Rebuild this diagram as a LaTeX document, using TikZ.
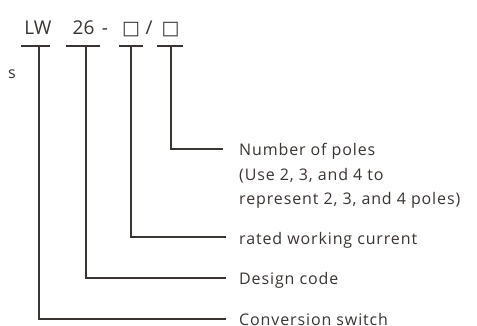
\documentclass[tikz,border=0pt]{standalone}
\usepackage{fontspec}
\setmainfont{Open Sans}
\newfontfamily\symfont{DejaVu Sans}
\newfontfamily\labelfont[LetterSpace=5.5]{Open Sans}
\definecolor{ink}{HTML}{3A3432}
\begin{document}
\begin{tikzpicture}[x=1pt,y=-1pt,
  lead/.style={draw=ink,line width=1.2pt},
  code/.style={inner sep=0pt,anchor=base,text=ink,font=\fontsize{19}{22}\selectfont},
  box/.style={inner sep=0pt,anchor=base,text=ink,font=\symfont\fontsize{19}{22}\selectfont},
  desc/.style={inner sep=0pt,anchor=base west,text=ink,font=\labelfont\fontsize{16}{24}\selectfont}]
\useasboundingbox (0,0) rectangle (477,326);
% model designation
\node[code] (lw)   at (38,35) {LW};
\node[code] (num)  at (83.5,35) {26};
\node[code] (dash) at (105,35) {-};
\node[box]  (b1)   at (131,35) {□};
\node[code] (sl)   at (149,35) {/};
\node[box]  (b2)   at (170.5,35) {□};
\node[desc] (frag) at (8,79) {s};
% underlines
\draw[lead] (21,46) -- (50,46);
\draw[lead] (66,46) -- (100,46);
\draw[lead] (119,46) -- (143,46);
\draw[lead] (157,46) -- (183,46);
% leader ends
\coordinate (e1) at (226,319);
\coordinate (e2) at (226,278);
\coordinate (e3) at (226,237);
\coordinate (e4) at (223,149);
\draw[lead] (39,46) |- (e1);
\draw[lead] (86,46) |- (e2);
\draw[lead] (131,46) |- (e3);
\draw[lead] (171,46) |- (e4);
% descriptions
\node[desc] (t4a) at (239,156) {Number of poles};
\node[desc] (t4b) at (239,180.5) {(Use 2, 3, and 4 to};
\node[desc] (t4c) at (239,205) {represent 2, 3, and 4 poles)};
\node[desc] (t3) at (239,244) {rated working current};
\node[desc] (t2) at (239,284) {Design code};
\node[desc] (t1) at (239,325) {Conversion switch};
\end{tikzpicture}
\end{document}
